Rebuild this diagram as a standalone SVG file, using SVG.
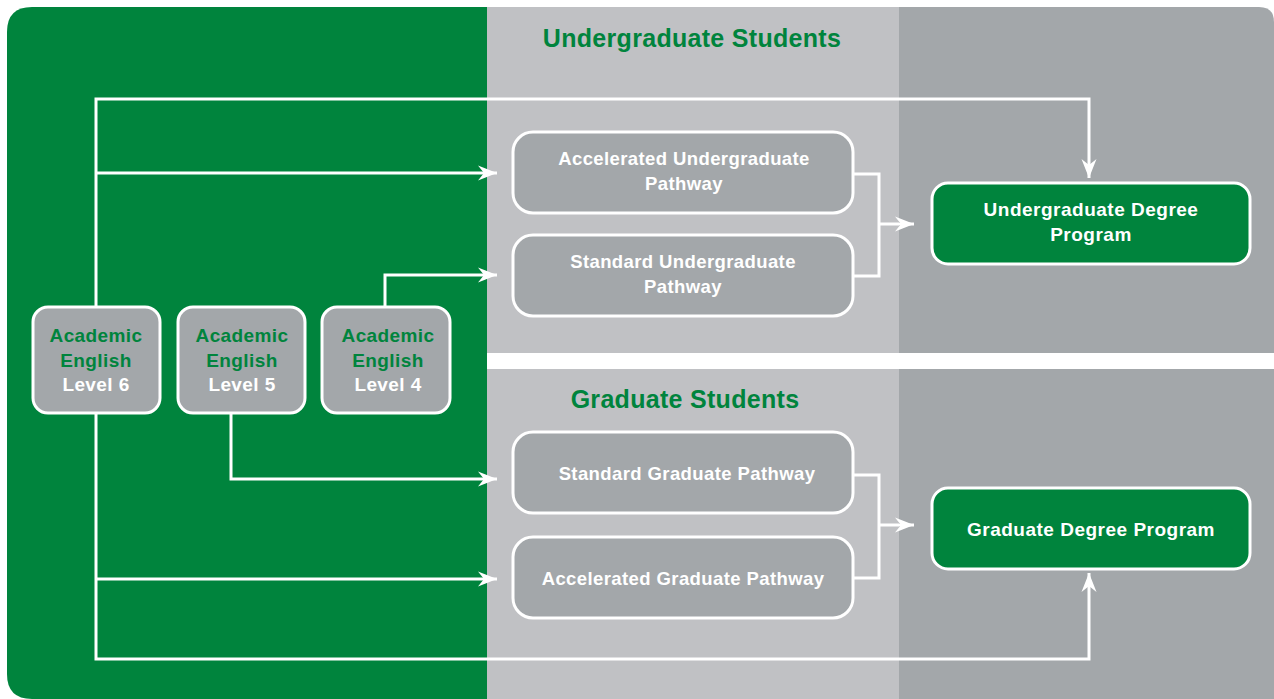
<svg xmlns="http://www.w3.org/2000/svg" width="1274" height="699" viewBox="0 0 1274 699">
<defs>
<style>
.line{fill:none;stroke:#fff;stroke-width:3}
.gbox{fill:#a3a7aa;stroke:#fff;stroke-width:3}
.dbox{fill:#00843d;stroke:#fff;stroke-width:3}
text{font-family:"Liberation Sans",Arial,sans-serif;font-weight:bold;text-anchor:middle}
.w{fill:#fff;font-size:18.5px;letter-spacing:0.4px}
.lv{fill:#fff;font-size:19px;letter-spacing:0.4px}
.g{fill:#00843d;font-size:19px;letter-spacing:0.4px}
.d{fill:#fff;font-size:19px;letter-spacing:0.5px}
.title{fill:#00843d;font-size:25px;letter-spacing:0.3px}
</style>
<marker id="ah" markerUnits="userSpaceOnUse" markerWidth="24" markerHeight="20" viewBox="-20 -10 22 20" refX="0" refY="0" orient="auto">
<path d="M0,0 L-19,-7.5 L-13,0 L-19,7.5 Z" fill="#fff"/>
</marker>
</defs>
<g id="background">
<path d="M487,7 L32,7 Q7,7 7,32 L7,674 Q7,699 32,699 L487,699 Z" fill="#00843d"/>
<rect x="487" y="7" width="412" height="692" fill="#c0c1c4"/>
<path d="M899,7 L1259,7 Q1274,7 1274,22 L1274,699 L899,699 Z" fill="#a3a7aa"/>
<rect x="487" y="353" width="787" height="16" fill="#fff"/>
<text class="title" x="692" y="47">Undergraduate Students</text>
<text class="title" x="685" y="408">Graduate Students</text>
</g>
<g id="connectors">
<path class="line" d="M96,307 L96,99 L1089,99 L1089,178" marker-end="url(#ah)"/>
<path class="line" d="M96,173 L497,173" marker-end="url(#ah)"/>
<path class="line" d="M385,307 L385,275 L497,275" marker-end="url(#ah)"/>
<path class="line" d="M231,413 L231,479 L497,479" marker-end="url(#ah)"/>
<path class="line" d="M96,413 L96,659 L1089,659 L1089,573" marker-end="url(#ah)"/>
<path class="line" d="M96,579 L497,579" marker-end="url(#ah)"/>
<path class="line" d="M853,174 L879,174 L879,276 L853,276"/>
<path class="line" d="M879,224 L914,224" marker-end="url(#ah)"/>
<path class="line" d="M853,475 L879,475 L879,578 L853,578"/>
<path class="line" d="M879,525 L914,525" marker-end="url(#ah)"/>
</g>
<g id="level6">
<rect class="gbox" x="33" y="307" width="127" height="106" rx="15"/>
<text class="g" x="96" y="342">Academic</text>
<text class="g" x="96" y="367">English</text>
<text class="lv" x="96" y="391">Level 6</text>
</g>
<g id="level5">
<rect class="gbox" x="178" y="307" width="127" height="106" rx="15"/>
<text class="g" x="242" y="342">Academic</text>
<text class="g" x="242" y="367">English</text>
<text class="lv" x="242" y="391">Level 5</text>
</g>
<g id="level4">
<rect class="gbox" x="322" y="307" width="128" height="106" rx="15"/>
<text class="g" x="388" y="342">Academic</text>
<text class="g" x="388" y="367">English</text>
<text class="lv" x="388" y="391">Level 4</text>
</g>
<g id="accel-ug">
<rect class="gbox" x="513" y="132" width="340" height="81" rx="20"/>
<text class="w" x="684" y="165">Accelerated Undergraduate</text>
<text class="w" x="684" y="190">Pathway</text>
</g>
<g id="std-ug">
<rect class="gbox" x="513" y="235" width="340" height="81" rx="20"/>
<text class="w" x="683" y="268">Standard Undergraduate</text>
<text class="w" x="683" y="293">Pathway</text>
</g>
<g id="std-grad">
<rect class="gbox" x="513" y="432" width="340" height="81" rx="20"/>
<text class="w" x="687" y="480">Standard Graduate Pathway</text>
</g>
<g id="accel-grad">
<rect class="gbox" x="513" y="537" width="340" height="81" rx="20"/>
<text class="w" x="683" y="585">Accelerated Graduate Pathway</text>
</g>
<g id="ug-degree">
<rect class="dbox" x="932" y="183" width="318" height="81" rx="16"/>
<text class="d" x="1091" y="216">Undergraduate Degree</text>
<text class="d" x="1091" y="241">Program</text>
</g>
<g id="grad-degree">
<rect class="dbox" x="932" y="488" width="318" height="81" rx="16"/>
<text class="d" x="1091" y="536">Graduate Degree Program</text>
</g>
</svg>
